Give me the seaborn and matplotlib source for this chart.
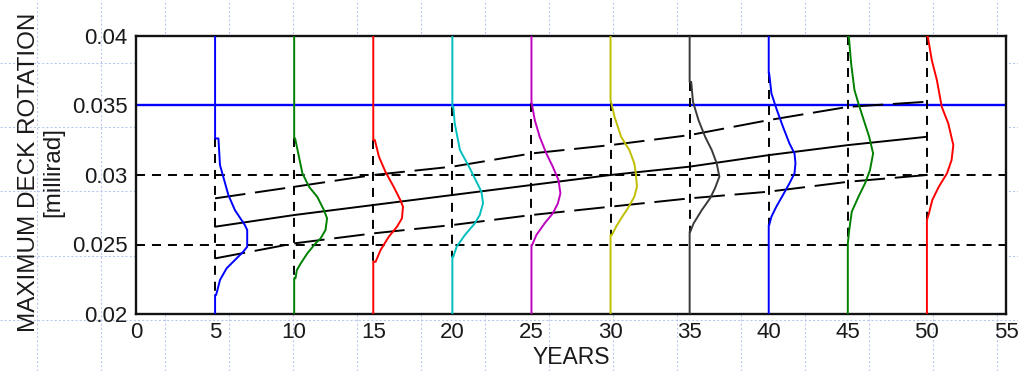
import matplotlib
matplotlib.use('Agg')
import matplotlib.pyplot as plt
from matplotlib.lines import Line2D
import pandas as pd
import seaborn as sns

# ---- data ----
YEARS = [5, 10, 15, 20, 25, 30, 35, 40, 45, 50]
MEAN  = [0.02628, 0.02712, 0.02784, 0.02856, 0.02928, 0.03000, 0.03060, 0.03143, 0.03215, 0.03275]
UPPER = [0.02832, 0.02915, 0.03000, 0.03060, 0.03155, 0.03215, 0.03287, 0.03395, 0.03490, 0.03527]
LOWER = [0.02400, 0.02508, 0.02580, 0.02640, 0.02712, 0.02772, 0.02832, 0.02880, 0.02951, 0.03000]
LIMIT = 0.035
BANDS = [0.025, 0.030]

# distribution curves at each year: rotation level + sideways bulge (in years)
CURVE_Y = [
    [0.03263, 0.03071, 0.02856, 0.02748, 0.02640, 0.02604, 0.02484, 0.02448, 0.02388, 0.02329, 0.02245, 0.02173, 0.02137],
    [0.03263, 0.03012, 0.02915, 0.02843, 0.02748, 0.02688, 0.02604, 0.02544, 0.02508, 0.02436, 0.02365, 0.02316, 0.02257],
    [0.03251, 0.03131, 0.03023, 0.02915, 0.02820, 0.02771, 0.02688, 0.02628, 0.02556, 0.02460, 0.02376],
    [0.03490, 0.03371, 0.03179, 0.03071, 0.02976, 0.02879, 0.02796, 0.02712, 0.02652, 0.02568, 0.02484, 0.02412],
    [0.03515, 0.03395, 0.03275, 0.03155, 0.03059, 0.02963, 0.02868, 0.02796, 0.02724, 0.02652, 0.02568, 0.02496],
    [0.03527, 0.03419, 0.03275, 0.03179, 0.03084, 0.03012, 0.02915, 0.02843, 0.02760, 0.02688, 0.02628, 0.02568],
    [0.03670, 0.03527, 0.03395, 0.03275, 0.03179, 0.03084, 0.02988, 0.02904, 0.02832, 0.02748, 0.02652, 0.02592],
    [0.03730, 0.03587, 0.03479, 0.03347, 0.03227, 0.03155, 0.03084, 0.03012, 0.02940, 0.02856, 0.02772, 0.02700, 0.02640],
    [0.04000, 0.03802, 0.03611, 0.03515, 0.03419, 0.03275, 0.03155, 0.03035, 0.02940, 0.02843, 0.02736, 0.02604, 0.02508],
    [0.04000, 0.03826, 0.03683, 0.03490, 0.03371, 0.03215, 0.03107, 0.03012, 0.02915, 0.02820, 0.02724, 0.02676],
]
CURVE_W = [
    [0.21, 0.31, 0.84, 1.25, 1.88, 2.03, 2.03, 1.78, 1.25, 0.73, 0.31, 0.15, 0.06],
    [0.06, 0.52, 0.94, 1.46, 1.88, 2.08, 1.98, 1.67, 1.35, 0.83, 0.42, 0.17, 0.08],
    [0.10, 0.36, 0.77, 1.29, 1.71, 1.88, 1.81, 1.50, 0.98, 0.46, 0.15],
    [0.06, 0.15, 0.48, 1.00, 1.42, 1.84, 1.94, 1.73, 1.42, 0.79, 0.27, 0.06],
    [0.02, 0.21, 0.52, 0.94, 1.35, 1.71, 1.83, 1.67, 1.35, 0.83, 0.31, 0.04],
    [0.03, 0.25, 0.67, 1.19, 1.50, 1.60, 1.67, 1.50, 1.09, 0.67, 0.35, 0.08],
    [0.10, 0.21, 0.56, 0.98, 1.40, 1.71, 1.88, 1.60, 1.29, 0.77, 0.25, 0.04],
    [0.03, 0.17, 0.48, 0.90, 1.31, 1.63, 1.69, 1.63, 1.31, 0.90, 0.48, 0.17, 0.03],
    [0.06, 0.21, 0.42, 0.67, 0.94, 1.35, 1.60, 1.40, 1.09, 0.67, 0.25, 0.09, 0.00],
    [0.05, 0.31, 0.63, 0.94, 1.35, 1.67, 1.56, 1.27, 0.75, 0.34, 0.13, 0.00],
]
COLORS = ['#0000ff', '#008000', '#ff0000', '#00bfbf', '#bf00bf',
          '#bfbf00', '#3a3a3a', '#0000ff', '#008000', '#ff0000']

YMIN, YMAX = 0.02, 0.04
TEXT = '#1a1a1a'

sns.set_style('white')
plt.rcParams['font.family'] = ['Liberation Sans', 'DejaVu Sans']
plt.rcParams['lines.scale_dashes'] = False

fig = plt.figure(figsize=(10.18, 3.71), dpi=100)
fig.patch.set_facecolor('white')

# faint spreadsheet cell grid behind the chart
for i in range(16):
    x = (37 + 64 * i) / 1018
    fig.add_artist(Line2D([x, x], [0, 1], transform=fig.transFigure,
                          color='#b9c9ee', lw=0.8, ls=(0, (1.5, 1.5)), zorder=0))
for j in range(6):
    y = 1 - (63 + 64.2 * j) / 371
    fig.add_artist(Line2D([0, 1], [y, y], transform=fig.transFigure,
                          color='#b9c9ee', lw=0.8, ls=(0, (1.5, 1.5)), zorder=0))

ax = fig.add_axes([136 / 1018, 1 - 314 / 371, 870 / 1018, 278 / 371])
ax.set_facecolor('white')
ax.set_zorder(1)

SHORT = (0, (6.5, 5))
LONG = (0, (22, 7))

for b in BANDS:
    ax.axhline(b, color='black', lw=1.4, ls=SHORT, zorder=2)
ax.axhline(LIMIT, color='#0000ff', lw=1.7, zorder=2)

bounds = pd.DataFrame({'year': YEARS, 'mean': MEAN, 'upper': UPPER, 'lower': LOWER})
sns.lineplot(data=bounds, x='year', y='upper', ax=ax, color='black', lw=1.4,
             linestyle=LONG, zorder=3)
sns.lineplot(data=bounds, x='year', y='lower', ax=ax, color='black', lw=1.4,
             linestyle=LONG, zorder=3)
sns.lineplot(data=bounds, x='year', y='mean', ax=ax, color='black', lw=1.4, zorder=3)

for yr, ys, ws, c in zip(YEARS, CURVE_Y, CURVE_W, COLORS):
    # dashed marker of the base year where the curve leaves it
    ax.plot([yr, yr], [ys[0], ys[-1]], color='black', lw=1.4, ls=SHORT, zorder=3)
    yy = [YMAX, ys[0]] + ys + [ys[-1], YMIN]
    xx = [yr, yr] + [yr + w for w in ws] + [yr, yr]
    curve = pd.DataFrame({'x': xx, 'y': yy})
    sns.lineplot(data=curve, x='x', y='y', ax=ax, sort=False, estimator=None,
                 color=c, lw=1.4, zorder=4)

ax.set_xlim(0, 55)
ax.set_ylim(YMIN, YMAX)
ax.set_xticks(range(0, 56, 5))
ax.set_yticks([0.02, 0.025, 0.03, 0.035, 0.04])
ax.set_yticklabels(['0.02', '0.025', '0.03', '0.035', '0.04'])
ax.tick_params(length=0, labelsize=16, colors=TEXT, pad=6)
for sp in ax.spines.values():
    sp.set_color('#111111')
    sp.set_linewidth(1.7)
    sp.set_visible(True)

ax.set_xlabel('YEARS', fontsize=16.5, color=TEXT, labelpad=2)
ax.set_ylabel('MAXIMUM DECK ROTATION\n[millirad]', fontsize=17.5, color=TEXT,
              linespacing=1.1)
ax.yaxis.set_label_coords(-0.083, 0.51)

fig.savefig('out.png', dpi=100, facecolor='white')
